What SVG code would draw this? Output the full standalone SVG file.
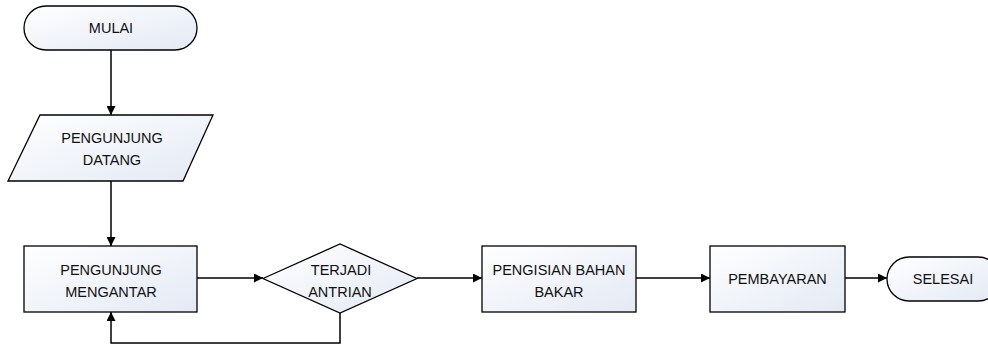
<svg xmlns="http://www.w3.org/2000/svg" width="988" height="345" viewBox="0 0 988 345">
<defs>
<linearGradient id="g" x1="0" y1="0" x2="1" y2="1">
<stop offset="0" stop-color="#ffffff"/>
<stop offset="1" stop-color="#e3e9f4"/>
</linearGradient>
<marker id="arr" viewBox="0 0 10 10" refX="10" refY="5" markerWidth="10" markerHeight="9" markerUnits="userSpaceOnUse" orient="auto">
<path d="M0,0 L10,5 L0,10 z" fill="#000"/>
</marker>
<style>
.s{fill:url(#g);stroke:#000;stroke-width:1.3}
.t{font-family:"Liberation Sans",Arial,sans-serif;font-size:14.5px;fill:#111;text-anchor:middle}
.c{fill:none;stroke:#000;stroke-width:1.5;marker-end:url(#arr)}
</style>
</defs>
<rect width="988" height="345" fill="#fff"/>
<g id="connectors">
<path class="c" d="M111,50 V115"/>
<path class="c" d="M111,181 V246"/>
<path class="c" d="M197,278 H263"/>
<path class="c" d="M340,313 V343 H111 V312"/>
<path class="c" d="M417,278 H482"/>
<path class="c" d="M636,278 H710"/>
<path class="c" d="M845,278 H887"/>
</g>
<g id="mulai">
<rect class="s" x="24" y="6" width="173" height="44" rx="22"/>
<text class="t" x="111" y="33">MULAI</text>
</g>
<g id="pengunjung-datang">
<polygon class="s" points="40,115 213,115 183,181 8,181"/>
<text class="t" x="112" y="143">PENGUNJUNG</text>
<text class="t" x="112" y="165">DATANG</text>
</g>
<g id="pengunjung-mengantar">
<rect class="s" x="24" y="246" width="173" height="66"/>
<text class="t" x="111" y="275">PENGUNJUNG</text>
<text class="t" x="111" y="297">MENGANTAR</text>
</g>
<g id="terjadi-antrian">
<polygon class="s" points="263,278.5 340,244 417,278.5 340,313"/>
<text class="t" x="341" y="275">TERJADI</text>
<text class="t" x="340" y="297">ANTRIAN</text>
</g>
<g id="pengisian">
<rect class="s" x="482" y="246" width="154" height="66"/>
<text class="t" x="559" y="275">PENGISIAN BAHAN</text>
<text class="t" x="559" y="297">BAKAR</text>
</g>
<g id="pembayaran">
<rect class="s" x="710" y="246" width="135" height="66"/>
<text class="t" x="777.5" y="284">PEMBAYARAN</text>
</g>
<g id="selesai">
<rect class="s" x="887" y="257" width="113" height="44" rx="22"/>
<text class="t" x="943" y="284">SELESAI</text>
</g>
</svg>
